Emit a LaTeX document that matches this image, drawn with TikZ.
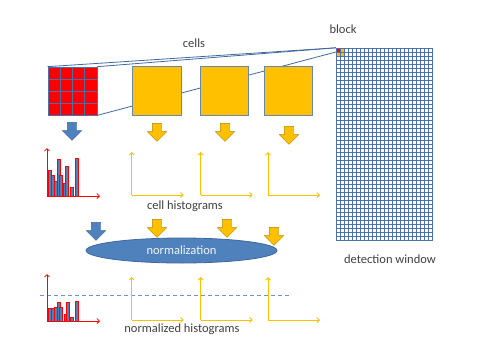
\documentclass[tikz,border=0pt]{standalone}
\usepackage{fontspec}
\setmainfont{Carlito}
\usepackage{tikz}
\usetikzlibrary{arrows.meta,shapes.geometric,shapes.arrows,backgrounds}

\definecolor{hogred}{HTML}{FF0000}
\definecolor{hogyellow}{HTML}{FFC000}
\definecolor{hogblue}{HTML}{4F81BD}
\definecolor{hogedge}{HTML}{41689C}
\definecolor{hoggrid}{HTML}{4A70AD}
\definecolor{hogtext}{HTML}{404040}
\definecolor{axisyellow}{HTML}{FFC000}
\definecolor{dashblue}{HTML}{6F93CB}

\begin{document}
\begin{tikzpicture}[x=1pt, y=-1pt,
  lbl/.style={text=hogtext, font=\fontsize{12.5}{15}\selectfont},
  cellbox/.style={draw=hogedge!80, fill=hogyellow, line width=0.8pt, minimum size=48.5pt, inner sep=0pt},
  downarrow/.style={single arrow, shape border rotate=270, inner sep=4.5pt, minimum height=18pt,
    single arrow head extend=5pt, line width=0.4pt},
  bluearrow/.style={downarrow, fill=hogblue, draw=hogblue!80!black},
  yellowarrow/.style={downarrow, fill=hogyellow, draw=hogyellow!70!black},
  projline/.style={draw=hogedge, line width=0.8pt},
  gridline/.style={draw=hoggrid, line width=0.55pt},
  redaxis/.style={draw=hogred, line width=0.8pt, -{Straight Barb[length=2.5pt,width=5pt]}},
  yaxis/.style={draw=axisyellow, line width=0.9pt, -{Straight Barb[length=2.5pt,width=5pt]}},
  bar/.style={fill=hogblue, draw=hogred, line width=0.6pt}
]
\useasboundingbox (0,0) rectangle (480,360);

% cells and detection window
\node[fill=hogred, draw=hoggrid, line width=0.7pt, minimum width=49pt, minimum height=48pt, inner sep=0pt] (redcells) at (72.5,91) {};
\foreach \k in {1,2,3} {
  \draw[gridline] (48+12.25*\k,67) -- (48+12.25*\k,115);
  \draw[gridline] (48,67+12*\k) -- (97,67+12*\k);
}
\node[cellbox] (cellA) at (157,91) {};
\node[cellbox] (cellB) at (224.5,91) {};
\node[cellbox] (cellC) at (288.5,91) {};

\fill[hogred] (336,48) rectangle (340,52);
\fill[hogyellow] (340,48) rectangle (344,52) (336,52) rectangle (344,56);
\foreach \i in {0,...,24}
  \draw[gridline] (336+4*\i,48) -- (336+4*\i,240);
\foreach \j in {0,...,48}
  \draw[gridline] (336,48+4*\j) -- (432,48+4*\j);
\node[draw=hoggrid, line width=0.8pt, minimum width=96pt, minimum height=192pt, inner sep=0pt] (window) at (384,144) {};
\node[minimum size=8pt, inner sep=0pt] (block) at (340,52) {};

\begin{scope}[on background layer]
  \draw[projline] (redcells.north west) -- (block.north west);
  \draw[projline] (redcells.north east) -- (block.north west);
  \draw[projline] (redcells.south east) -- (block.west);
\end{scope}

\node[lbl] (cellstext) at (194,43) {cells};
\node[lbl] (blocktext) at (343,29) {block};
\node[lbl] (windowtext) at (390,259) {detection window};

% arrows down to the histograms
\node[bluearrow] (arrR) at (72,129) {};
\node[yellowarrow] (arrA) at (157,130) {};
\node[yellowarrow] (arrB) at (225,130) {};
\node[yellowarrow] (arrC) at (289,133) {};

% cell histograms
\coordinate (histR) at (47,196);
\foreach \x/\t in {48/170, 51.5/175, 54/181, 57/159, 59.5/175, 63/183, 65.5/166, 70/187, 75/158}
  \draw[bar] (\x,196) rectangle (\x+3,\t);
\draw[redaxis] (histR) -- ++(0,-48);
\draw[redaxis] (histR) -- ++(53,0);
\foreach \x in {131.7,200.7,268} {
  \coordinate (histY) at (\x,195);
  \draw[yaxis] (histY) -- ++(0,-43);
  \draw[yaxis] (histY) -- ++(52,0);
}
\node[lbl] (histtext) at (185,206) {cell histograms};

% normalization
\node[bluearrow] (arrN) at (96,229) {};
\node[yellowarrow] (arrNA) at (157,226) {};
\node[yellowarrow] (arrNB) at (227,226) {};
\node[yellowarrow] (arrNC) at (274,234) {};
\node[ellipse, fill=hogblue, draw=hogedge, line width=0.8pt, minimum width=191pt, minimum height=25pt,
  inner sep=0pt, text=white!92!hogblue, font=\fontsize{12.5}{15}\selectfont] (norm) at (181.5,250.5) {normalization};

% normalized histograms
\coordinate (dashL) at (40,295);
\coordinate (dashR) at (290,295);
\draw[dashblue, line width=0.8pt, dash pattern=on 4pt off 3pt] (dashL) -- (dashR);
\coordinate (normR) at (47,321);
\foreach \x/\t in {48/308, 51.5/308, 54/307, 57/302, 59.5/307, 64/314, 66.5/302, 70/317, 75/301}
  \draw[bar] (\x,321) rectangle (\x+3,\t);
\draw[redaxis] (normR) -- ++(0,-47);
\draw[redaxis] (normR) -- ++(53,0);
\foreach \x in {131.7,200.7,268} {
  \coordinate (normY) at (\x,320);
  \draw[yaxis] (normY) -- ++(0,-43);
  \draw[yaxis] (normY) -- ++(52,0);
}
\node[lbl] (normtext) at (182,329) {normalized histograms};
\end{tikzpicture}
\end{document}
